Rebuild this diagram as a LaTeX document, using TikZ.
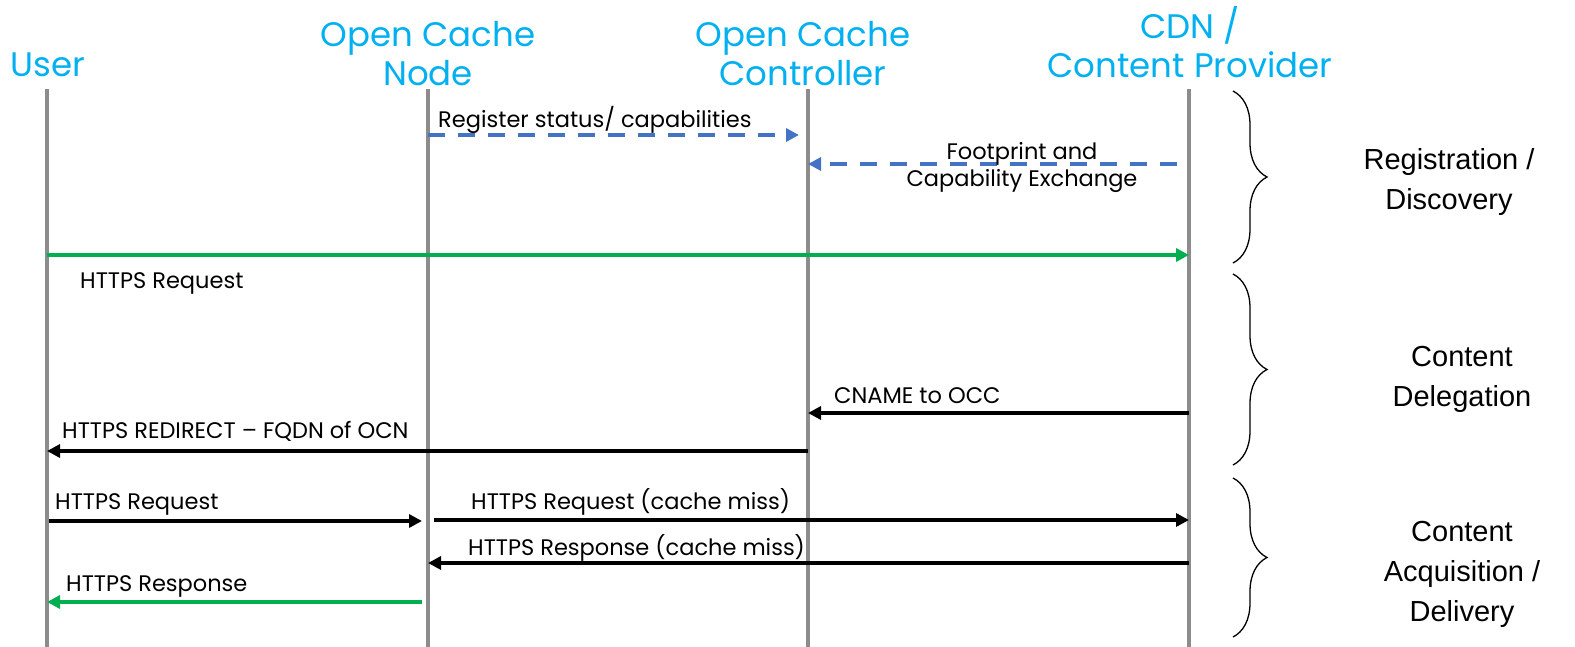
\documentclass[tikz,border=0pt]{standalone}
\usepackage{fontspec}
\setmainfont{Poppins}
\newfontfamily\arialfont{Liberation Sans}
\usetikzlibrary{arrows.meta,decorations.pathreplacing}

\definecolor{headcyan}{HTML}{00B0F0}
\definecolor{regblue}{HTML}{4472C4}
\definecolor{okgreen}{HTML}{00B050}
\definecolor{lifegray}{HTML}{8C8C8C}

\begin{document}
\begin{tikzpicture}[x=1pt,y=-1pt,
	actor/.style={text=headcyan,font=\fontsize{34}{39}\selectfont,align=center,inner sep=0pt},
	life/.style={draw=lifegray,line width=4pt},
	msg/.style={line width=3.5pt,-{Triangle[length=13pt,width=13pt]}},
	regmsg/.style={msg,draw=regblue,dash pattern=on 17pt off 13pt},
	okmsg/.style={msg,draw=okgreen},
	lbl/.style={font=\fontsize{22.5}{27}\selectfont,inner sep=0pt,anchor=base west},
	phase/.style={font=\arialfont\fontsize{29}{40}\selectfont,align=center,inner sep=0pt},
	phase brace/.style={line width=1.3pt,decorate,decoration={brace,amplitude=34pt}}
]
	\useasboundingbox (0,0) rectangle (1575,647);

	% lifelines
	\coordinate (user) at (47,89);
	\coordinate (ocn) at (428,89);
	\coordinate (occ) at (808,89);
	\coordinate (cdn) at (1189,89);

	\foreach \p in {user,ocn,occ,cdn}
		\draw[life] (\p) -- (\p |- 0,647);

	\node[actor] (usertitle) at (48,65) {User};
	\node[actor] (ocntitle) at (428,54) {Open Cache\\Node};
	\node[actor] (occtitle) at (803,54) {Open Cache\\Controller};
	\node[actor] (cdntitle) at (1190,42) {CDN /\\Content Provider};

	% registration / discovery
	\draw[regmsg] (ocn |- 0,135) -- ([xshift=-9pt]occ |- 0,135);
	\node[lbl] (regtxt) at (438,128) {Register status/ capabilities};
	\draw[regmsg] ([xshift=-12pt]cdn |- 0,164) -- (occ |- 0,164);
	\node[font=\fontsize{22.5}{27}\selectfont,align=center,inner sep=0pt] (fptxt) at (1022,167) {Footprint and\\Capability Exchange};

	\draw[okmsg] (user |- 0,255) -- (cdn |- 0,255);
	\node[lbl] (req1) at (80,289) {HTTPS Request};

	% content delegation
	\draw[msg] (cdn |- 0,413) -- (occ |- 0,413);
	\node[lbl] (cname) at (834,403) {CNAME to OCC};
	\draw[msg] (occ |- 0,451) -- (user |- 0,451);
	\node[lbl] (redir) at (62,438) {HTTPS REDIRECT -- FQDN of OCN};

	% content acquisition / delivery
	\draw[msg,shorten <=2pt,shorten >=6pt] (user |- 0,521) -- (ocn |- 0,521);
	\node[lbl] (req2) at (55,509) {HTTPS Request};
	\draw[msg,shorten <=6pt] (ocn |- 0,520) -- (cdn |- 0,520);
	\node[lbl] (req3) at (471,509) {HTTPS Request (cache miss)};
	\draw[msg] (cdn |- 0,563) -- (ocn |- 0,563);
	\node[lbl] (resp1) at (468,555) {HTTPS Response (cache miss)};
	\draw[okmsg,shorten <=6pt] (ocn |- 0,602) -- (user |- 0,602);
	\node[lbl] (resp2) at (66,591) {HTTPS Response};

	% phases
	\draw[phase brace] (1233,91) -- (1233,263);
	\draw[phase brace] (1233,274) -- (1233,465);
	\draw[phase brace] (1233,478) -- (1233,637);
	\node[phase] (regphase) at (1449,182) {Registration /\\Discovery};
	\node[phase] (delphase) at (1462,379) {Content\\Delegation};
	\node[phase] (acqphase) at (1462,574) {Content\\Acquisition /\\Delivery};
\end{tikzpicture}
\end{document}
